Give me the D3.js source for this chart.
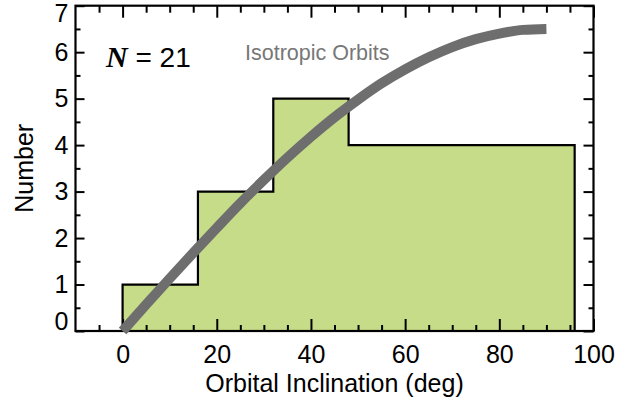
<!DOCTYPE html>
<html>
<head>
<meta charset="utf-8">
<script src="https://cdn.jsdelivr.net/npm/d3@7"></script>
<style>
  html, body { margin: 0; padding: 0; background: #fff; }
  svg { display: block; }
  text { font-family: "Liberation Sans", Arial, Helvetica, sans-serif; }
</style>
</head>
<body>
<svg id="chart" width="631" height="397"></svg>
<script>
// Histogram of orbital inclinations (bin edges in degrees, counts per bin)
const binEdges = [0, 16, 32, 48, 96];
const binCounts = [1, 3, 5, 4];

// Expected counts for isotropically oriented orbits
const isoAngles = [0, 5, 10, 15, 20, 25, 30, 35, 40, 45, 50, 55, 60, 65, 70, 75, 80, 85, 90];
const isoValues = [0, 0.57, 1.13, 1.68, 2.22, 2.75, 3.25, 3.73, 4.18, 4.6, 4.98, 5.33, 5.63, 5.89, 6.11, 6.28, 6.4, 6.48, 6.5];

// Axis ticks
const xMajor = [0, 20, 40, 60, 80, 100];
const xMinor = [-5, 5, 10, 15, 25, 30, 35, 45, 50, 55, 65, 70, 75, 85, 90, 95];
const yMajor = [0, 1, 2, 3, 4, 5, 6, 7];
const yMinor = [0.5, 1.5, 2.5, 3.5, 4.5, 5.5, 6.5];

const sampleSize = 21;

const svg = d3.select("#chart");
const plotLeft = 75.5, plotRight = 593.5, plotTop = 5.7, plotBottom = 331;

const x = d3.scaleLinear().domain([-10, 100]).range([plotLeft, plotRight]);
const y = d3.scaleLinear().domain([0, 7]).range([plotBottom, plotTop]);

// Histogram outline as a step path
const stepPts = [[binEdges[0], 0]];
binCounts.forEach((c, i) => stepPts.push([binEdges[i], c]));
stepPts.push([binEdges[binEdges.length - 1], binCounts[binCounts.length - 1]]);
stepPts.push([binEdges[binEdges.length - 1], 0]);

const stepLine = d3.line()
  .x(d => x(d[0]))
  .y(d => y(d[1]))
  .curve(d3.curveStepAfter);

svg.append("path")
  .attr("d", stepLine(stepPts) + "Z")
  .attr("fill", "#c6dc89")
  .attr("stroke", "none");

svg.append("path")
  .attr("d", stepLine(stepPts))
  .attr("fill", "none")
  .attr("stroke", "#000")
  .attr("stroke-width", 2.2)
  .attr("stroke-linejoin", "miter");

// Axes: ticks point inward on all four sides
function styleAxis(g) {
  g.select(".domain").remove();
  g.selectAll(".tick line").attr("stroke", "#000").attr("stroke-width", 2);
  g.selectAll("text").attr("fill", "#000").style("font-size", "25px");
}

svg.append("g").attr("transform", `translate(0,${plotBottom})`)
  .call(d3.axisBottom(x).tickValues(xMajor).tickSize(-12).tickPadding(14).tickFormat(d3.format("d")))
  .call(styleAxis);
svg.append("g").attr("transform", `translate(0,${plotBottom})`)
  .call(d3.axisBottom(x).tickValues(xMinor).tickSize(-6).tickFormat(""))
  .call(styleAxis);

svg.append("g").attr("transform", `translate(0,${plotTop})`)
  .call(d3.axisTop(x).tickValues(xMajor).tickSize(-12).tickFormat(""))
  .call(styleAxis);
svg.append("g").attr("transform", `translate(0,${plotTop})`)
  .call(d3.axisTop(x).tickValues(xMinor).tickSize(-7).tickFormat(""))
  .call(styleAxis);

const yAxisG = svg.append("g").attr("transform", `translate(${plotLeft},0)`)
  .call(d3.axisLeft(y).tickValues(yMajor).tickSize(-9).tickPadding(7).tickFormat(d3.format("d")))
  .call(styleAxis);
// keep the end labels inside the frame's vertical span
yAxisG.selectAll(".tick").filter(d => d === 0).select("text").attr("dy", "-0.05em");
yAxisG.selectAll(".tick").filter(d => d === 7).select("text").attr("dy", "0.62em");

svg.append("g").attr("transform", `translate(${plotLeft},0)`)
  .call(d3.axisLeft(y).tickValues(yMinor).tickSize(-5).tickFormat(""))
  .call(styleAxis);

svg.append("g").attr("transform", `translate(${plotRight},0)`)
  .call(d3.axisRight(y).tickValues(yMajor).tickSize(-10).tickFormat(""))
  .call(styleAxis);
svg.append("g").attr("transform", `translate(${plotRight},0)`)
  .call(d3.axisRight(y).tickValues(yMinor).tickSize(-5).tickFormat(""))
  .call(styleAxis);

// Frame
svg.append("rect")
  .attr("x", plotLeft).attr("y", plotTop)
  .attr("width", plotRight - plotLeft).attr("height", plotBottom - plotTop)
  .attr("fill", "none").attr("stroke", "#000").attr("stroke-width", 2.2);

// Isotropic expectation curve
const isoLine = d3.line()
  .x((d, i) => x(isoAngles[i]))
  .y(d => y(d))
  .curve(d3.curveMonotoneX);

svg.append("path")
  .attr("d", isoLine(isoValues))
  .attr("fill", "none")
  .attr("stroke", "#6e6e6e")
  .attr("stroke-width", 10)
  .attr("stroke-linecap", "butt");

// Labels
svg.append("text")
  .attr("x", 245).attr("y", 60)
  .attr("fill", "#777")
  .style("font-size", "21.5px")
  .text("Isotropic Orbits");

const nLabel = svg.append("text")
  .attr("x", 106).attr("y", 66.5)
  .style("font-size", "28px")
  .attr("fill", "#000");
nLabel.append("tspan")
  .style("font-family", "'Liberation Serif', 'Times New Roman', serif")
  .style("font-style", "italic")
  .style("font-weight", "bold")
  .style("font-size", "30px")
  .text("N");
nLabel.append("tspan").text(" = " + sampleSize);

svg.append("text")
  .attr("x", (plotLeft + plotRight) / 2).attr("y", 392)
  .attr("text-anchor", "middle")
  .style("font-size", "25px")
  .text("Orbital Inclination (deg)");

svg.append("text")
  .attr("transform", `translate(33,${(plotTop + plotBottom) / 2}) rotate(-90)`)
  .attr("text-anchor", "middle")
  .style("font-size", "25px")
  .text("Number");
</script>
</body>
</html>
